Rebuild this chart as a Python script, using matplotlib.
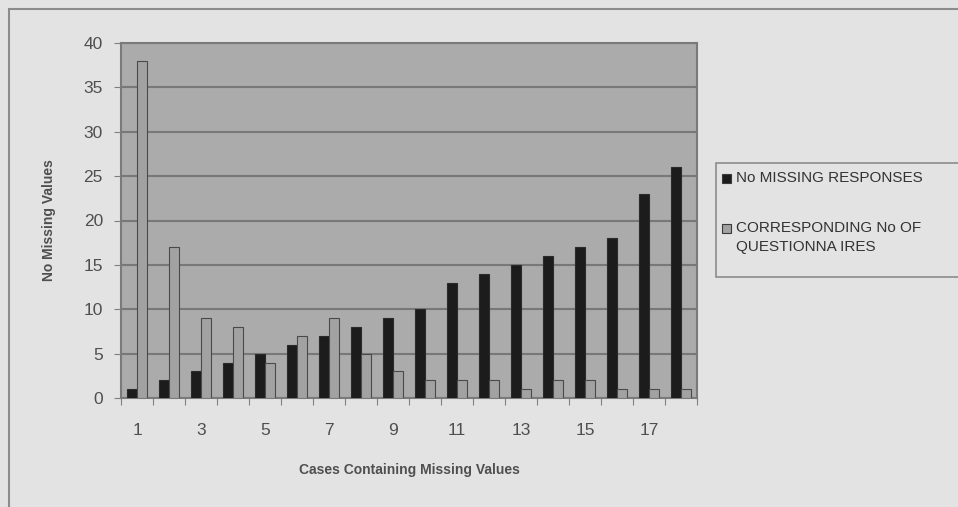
import numpy as np
import matplotlib.pyplot as plt
from matplotlib.patches import Rectangle

plt.rcParams['font.family'] = ['Liberation Sans', 'DejaVu Sans']

# missing-value counts per case
cases = np.arange(1, 19)
missing_responses = [1, 2, 3, 4, 5, 6, 7, 8, 9, 10, 13, 14, 15, 16, 17, 18, 23, 26]
questionnaires = [38, 17, 9, 8, 4, 7, 9, 5, 3, 2, 2, 2, 1, 2, 2, 1, 1, 1]
tick_labels = ['1', '3', '5', '7', '9', '11', '13', '15', '17']
series_names = ['No MISSING RESPONSES', 'CORRESPONDING No OF\nQUESTIONNA IRES']
series_colors = ['#1c1c1c', '#a2a2a2']

W, H = 958, 507
fig = plt.figure(figsize=(W / 100, H / 100), dpi=100)
fig.patch.set_facecolor('#e3e3e3')


def px(x, y):
    # pixel position (from top-left) -> figure fraction
    return x / W, 1 - y / H


# outer chart frame
fig.add_artist(Rectangle(px(9, 520), 1.2, (520 - 9) / H, transform=fig.transFigure,
                         fill=False, edgecolor='#8c8c8c', linewidth=1.5))

ax = fig.add_axes([121 / W, 1 - 398 / H, 576 / W, 355 / H])
ax.set_facecolor('#ababab')

w = 0.32
ax.bar(cases - w / 2, missing_responses, width=w, color=series_colors[0],
       edgecolor='#2a2a2a', linewidth=0.8, zorder=3)
ax.bar(cases + w / 2, questionnaires, width=w, color=series_colors[1],
       edgecolor='#4a4a4a', linewidth=0.8, zorder=3)

ax.set_xlim(0.5, 18.5)
ax.set_ylim(0, 40)
ax.set_yticks(np.arange(0, 41, 5))
ax.yaxis.grid(True, color='#787878', linewidth=1.5, zorder=1)
ax.set_axisbelow(True)

# major ticks between categories, labels on odd cases
ax.set_xticks(np.arange(0.5, 19, 1))
ax.set_xticklabels([])
ax.set_xticks(np.arange(1, 19, 2), minor=True)
ax.set_xticklabels(tick_labels, minor=True)
ax.tick_params(axis='x', which='minor', length=0, pad=18, labelsize=12.5, labelcolor='#4f4f4f')
ax.tick_params(axis='x', which='major', length=5, color='#808080')
ax.tick_params(axis='y', length=5, color='#808080', labelsize=12.5, labelcolor='#4f4f4f', pad=8)

for s in ax.spines.values():
    s.set_color('#7a7a7a')
    s.set_linewidth(1.5)

ax.set_xlabel('Cases Containing Missing Values', fontsize=10, fontweight='bold',
              color='#4f4f4f', labelpad=18)
ax.set_ylabel('No Missing Values', fontsize=10, fontweight='bold',
              color='#4f4f4f', labelpad=20)

# legend box on the right, running off the edge
fig.add_artist(Rectangle(px(716, 277), 0.3, (277 - 163) / H, transform=fig.transFigure,
                         facecolor='#e3e3e3', edgecolor='#8c8c8c', linewidth=1.2))
for name, color, y in zip(series_names, series_colors, [178, 228]):
    fig.add_artist(Rectangle(px(722, y + 4.5), 9 / W, 9 / H, transform=fig.transFigure,
                             facecolor=color, edgecolor='#3a3a3a', linewidth=0.8))
    fig.text(*px(736, y - 7), name, fontsize=11, color='#333333',
             va='top', ha='left', linespacing=1.45)

fig.savefig('out.png', dpi=100, facecolor=fig.get_facecolor())
